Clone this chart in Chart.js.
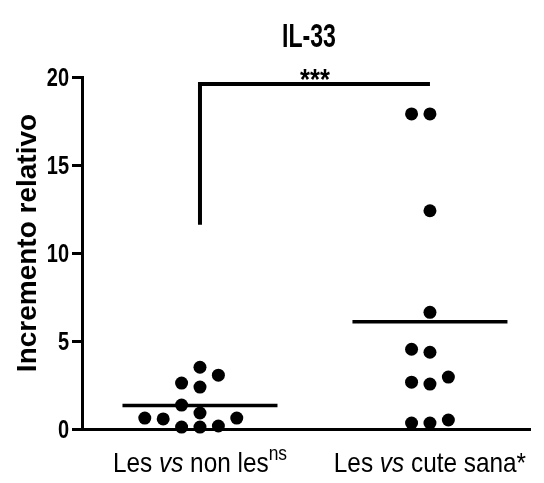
<!DOCTYPE html>
<html lang="es">
<head>
    <meta charset="UTF-8">
    <title>IL-33</title>
    <script src="https://cdn.jsdelivr.net/npm/chart.js"></script>
    <style>
        html, body { margin: 0; padding: 0; background: #fff; }
        canvas { display: block; }
    </style>
</head>
<body>
    <canvas id="chart" width="544" height="483"></canvas>

    <script>
        // Data
        const chartTitle = 'IL-33';
        const yAxisTitle = 'Incremento relativo';
        const groupX = [1, 2];
        const groupLabels = [
            [{ t: 'Les ' }, { t: 'vs', italic: true }, { t: ' non les' }, { t: 'ns', sup: true }],
            [{ t: 'Les ' }, { t: 'vs', italic: true }, { t: ' cute sana*' }]
        ];
        const lesVsNonLes = [3.51, 2.38, 2.61, 3.06, 1.36, 0.91, 0.62, 0.17, 0.11, 0.11, 0.57, 0.62];
        const lesVsCuteSana = [17.9, 17.9, 12.4, 6.63, 4.36, 4.53, 2.66, 2.55, 2.95, 0.51, 0.34, 0.34];
        const yTicks = [0, 5, 10, 15, 20];
        const bracketBottom = 11.6;
        const bracketTop = 19.6;
        const sigLabel = '***';

        // Layout constants
        const SANS = "'Liberation Sans', Arial, Helvetica, sans-serif";
        const SLOT_W = 0.08;     // horizontal step between dots, x units
        const ROW_GAP = 0.75;    // dots closer than this (y units) go side by side
        const MEAN_HALF = 0.337; // half width of the mean line

        // simple dot-plot layout: lowest values first, nearest free slot to the center
        function dotPlot(values, center) {
            const order = values.map((v, i) => i).sort((a, b) => values[a] - values[b]);
            const slots = [0, -1, 1, -2, 2, -3, 3, -4, 4, -5, 5];
            const placed = [];
            const pts = new Array(values.length);
            order.forEach(i => {
                const v = values[i];
                const slot = slots.find(s => placed.every(p => p.slot !== s || Math.abs(p.v - v) >= ROW_GAP));
                placed.push({ slot, v });
                pts[i] = { x: center + slot * SLOT_W, y: v };
            });
            return pts;
        }

        function mean(values) {
            return values.reduce((a, b) => a + b, 0) / values.length;
        }

        function meanLine(values, center) {
            const m = mean(values);
            return [{ x: center - MEAN_HALF, y: m }, { x: center + MEAN_HALF, y: m }];
        }

        // the figure uses a condensed face: squeeze the text sideways
        function fillSqueezed(ctx, text, x, y, sx) {
            ctx.save();
            ctx.translate(x, y);
            ctx.scale(sx, 1);
            ctx.fillText(text, 0, 0);
            ctx.restore();
        }

        function drawRich(ctx, parts, cx, baseline) {
            const sx = 0.87;
            const fontOf = p => p.sup ? `20px ${SANS}` : (p.italic ? `italic 28px ${SANS}` : `28px ${SANS}`);
            let total = 0;
            parts.forEach(p => { ctx.font = fontOf(p); total += ctx.measureText(p.t).width * sx; });
            let xPos = cx - total / 2;
            ctx.textAlign = 'left';
            parts.forEach(p => {
                ctx.font = fontOf(p);
                fillSqueezed(ctx, p.t, xPos, p.sup ? baseline - 12 : baseline, sx);
                xPos += ctx.measureText(p.t).width * sx;
            });
        }

        // Titles, tick labels, significance stars and category labels
        const textPlugin = {
            id: 'figureText',
            afterDraw(chart) {
                const { ctx, chartArea, scales: { x, y } } = chart;
                ctx.save();
                ctx.fillStyle = '#000';
                ctx.textBaseline = 'alphabetic';

                // chart title
                ctx.font = `bold 33px ${SANS}`;
                ctx.textAlign = 'center';
                fillSqueezed(ctx, chartTitle, (chartArea.left + chartArea.right) / 2 + 3, 47, 0.7);

                // y tick labels
                ctx.font = `bold 25px ${SANS}`;
                ctx.textAlign = 'right';
                y.ticks.forEach(t => fillSqueezed(ctx, String(t.value), chartArea.left - 13, y.getPixelForValue(t.value) + 9, 0.8));

                // y axis title
                ctx.save();
                ctx.translate(36, (chartArea.top + chartArea.bottom) / 2 - 10);
                ctx.rotate(-Math.PI / 2);
                ctx.font = `bold 28px ${SANS}`;
                ctx.textAlign = 'center';
                ctx.fillText(yAxisTitle, 0, 0);
                ctx.restore();

                // significance
                ctx.font = `bold 30px ${SANS}`;
                ctx.textAlign = 'center';
                fillSqueezed(ctx, sigLabel, x.getPixelForValue((groupX[0] + groupX[1]) / 2), y.getPixelForValue(bracketTop) + 5, 0.85);

                // category labels
                groupLabels.forEach((parts, i) => drawRich(ctx, parts, x.getPixelForValue(groupX[i]), 472));
                ctx.restore();
            }
        };

        const dots = { type: 'scatter', pointRadius: 6.5, pointBackgroundColor: '#000', pointBorderWidth: 0, showLine: false, clip: false };
        const lineStyle = { type: 'line', borderColor: '#000', pointRadius: 0, clip: false, borderCapStyle: 'butt', borderJoinStyle: 'miter' };

        new Chart(document.getElementById('chart'), {
            type: 'scatter',
            data: {
                datasets: [
                    { ...lineStyle, borderWidth: 4, data: [
                        { x: groupX[0], y: bracketBottom }, { x: groupX[0], y: bracketTop }, { x: groupX[1], y: bracketTop }] },
                    { ...lineStyle, borderWidth: 3.5, data: meanLine(lesVsNonLes, groupX[0]) },
                    { ...lineStyle, borderWidth: 3.5, data: meanLine(lesVsCuteSana, groupX[1]) },
                    { ...dots, data: dotPlot(lesVsNonLes, groupX[0]) },
                    { ...dots, data: dotPlot(lesVsCuteSana, groupX[1]) }
                ]
            },
            options: {
                responsive: false,
                devicePixelRatio: 1,
                animation: false,
                events: [],
                layout: { padding: { left: 0, right: 14, top: 77, bottom: 54 } },
                plugins: { legend: { display: false }, tooltip: { enabled: false }, title: { display: false } },
                scales: {
                    x: {
                        type: 'linear',
                        min: 0.487,
                        max: 2.435,
                        ticks: { display: false },
                        grid: { display: false },
                        border: { display: true, color: '#000', width: 3 },
                        afterFit: scale => { scale.height = 0; }
                    },
                    y: {
                        min: 0,
                        max: 20,
                        afterBuildTicks: scale => { scale.ticks = yTicks.map(v => ({ value: v })); },
                        ticks: { display: false },
                        grid: { display: true, drawOnChartArea: false, drawTicks: true, tickLength: 10, color: '#000', lineWidth: 3 },
                        border: { display: true, color: '#000', width: 3 },
                        afterFit: scale => { scale.width = 82; }
                    }
                }
            },
            plugins: [textPlugin]
        });
    </script>
</body>
</html>
